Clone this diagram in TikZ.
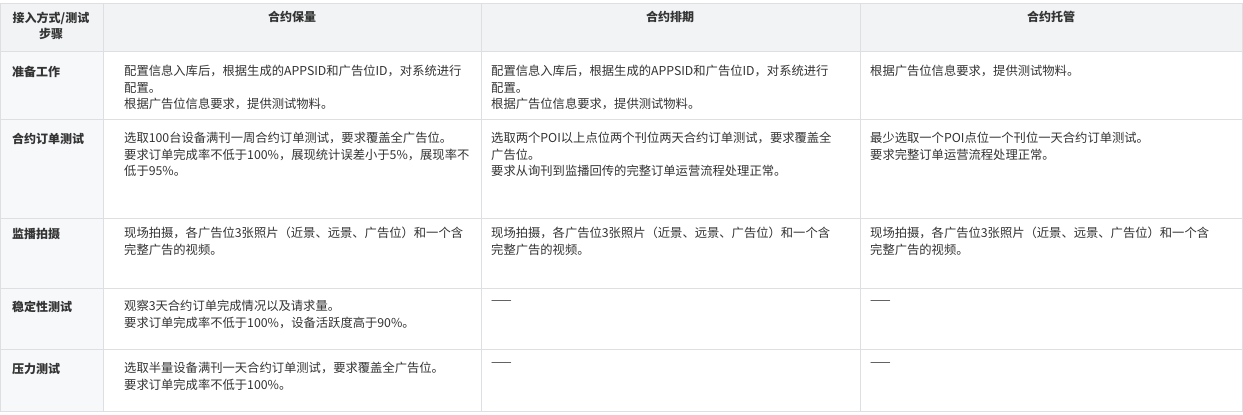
\documentclass[tikz,border=0pt]{standalone}
\usepackage{fontspec}
\setmainfont{Noto Sans CJK SC}
\usetikzlibrary{positioning}
\definecolor{headgray}{HTML}{F2F3F5}
\definecolor{sidegray}{HTML}{F7F8FA}
\definecolor{rulegray}{HTML}{DEDFE2}
\definecolor{inkgray}{HTML}{333333}
\tikzset{
  head/.style={font=\fontsize{12}{16}\selectfont\bfseries, text=inkgray, align=center, inner sep=0pt},
  side/.style={font=\fontsize{12}{16}\selectfont\bfseries, text=inkgray, anchor=north west, inner sep=0pt},
  cell/.style={font=\fontsize{12.3}{16.5}\selectfont, text=inkgray, anchor=north west, align=left, text width=365pt, inner sep=0pt},
}
\begin{document}
\begin{tikzpicture}[x=1pt,y=-1pt]
    \useasboundingbox (0,0) rectangle (1243,415);
    %Backgrounds
        \fill[white] (0,0) rectangle (1243,415);
        \fill[headgray] (0,3) rectangle (1243,51);
        \fill[sidegray] (0,51) rectangle (103,411);
    %Grid
        \foreach \y in {3,51,119,218,288,349,411}
            \draw[rulegray] (0,\y) -- (1243,\y);
        \foreach \x in {0.5,103,481,860,1242.5}
            \draw[rulegray] (\x,3) -- (\x,411);

    %Header
        \node[head] (h0) at (51,26) {接入方式/测试\\步骤};
        \node[head] (h1) at (292,17) {合约保量};
        \node[head] (h2) at (670,17) {合约排期};
        \node[head] (h3) at (1051,17) {合约托管};

    %Row labels
        \node[side] (r1) at (12,66) {准备工作};
        \node[side] (r2) at (12,133) {合约订单测试};
        \node[side] (r3) at (12,228) {监播拍摄};
        \node[side] (r4) at (12,301) {稳定性测试};
        \node[side] (r5) at (12,363) {压力测试};

    %Cells
        \node[cell] (c11) at (124,65) {配置信息入库后，根据生成的APPSID和广告位ID，对系统进行\\配置。\\根据广告位信息要求，提供测试物料。};
        \node[cell] (c12) at (491,65) {配置信息入库后，根据生成的APPSID和广告位ID，对系统进行\\配置。\\根据广告位信息要求，提供测试物料。};
        \node[cell] (c13) at (870,65) {根据广告位信息要求，提供测试物料。};

        \node[cell] (c21) at (124,132) {选取100台设备满刊一周合约订单测试，要求覆盖全广告位。\\要求订单完成率不低于100\%，展现统计误差小于5\%，展现率不\\低于95\%。};
        \node[cell] (c22) at (491,132) {选取两个POI以上点位两个刊位两天合约订单测试，要求覆盖全\\广告位。\\要求从询刊到监播回传的完整订单运营流程处理正常。};
        \node[cell] (c23) at (870,132) {最少选取一个POI点位一个刊位一天合约订单测试。\\要求完整订单运营流程处理正常。};

        \node[cell] (c31) at (124,227) {现场拍摄，各广告位3张照片（近景、远景、广告位）和一个含\\完整广告的视频。};
        \node[cell] (c32) at (491,227) {现场拍摄，各广告位3张照片（近景、远景、广告位）和一个含\\完整广告的视频。};
        \node[cell] (c33) at (870,227) {现场拍摄，各广告位3张照片（近景、远景、广告位）和一个含\\完整广告的视频。};

        \node[cell] (c41) at (124,300) {观察3天合约订单完成情况以及请求量。\\要求订单完成率不低于100\%，设备活跃度高于90\%。};
        \node[cell] (c42) at (491,300) {——};
        \node[cell] (c43) at (870,300) {——};

        \node[cell] (c51) at (124,362) {选取半量设备满刊一天合约订单测试，要求覆盖全广告位。\\要求订单完成率不低于100\%。};
        \node[cell] (c52) at (491,362) {——};
        \node[cell] (c53) at (870,362) {——};
\end{tikzpicture}
\end{document}
